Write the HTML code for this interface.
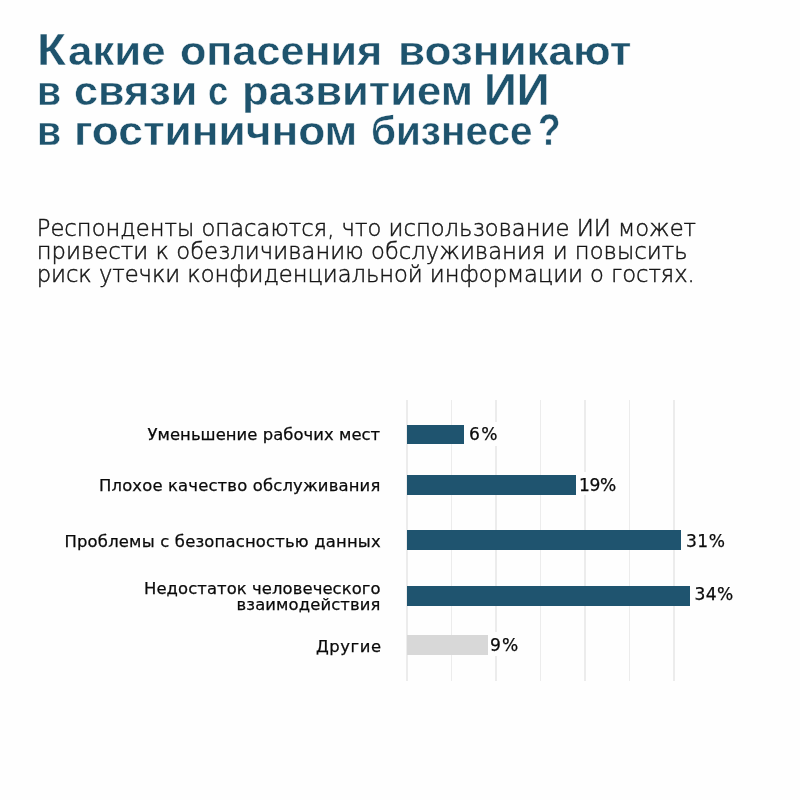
<!DOCTYPE html>
<html lang="ru">
<head>
<meta charset="utf-8">
<title>Какие опасения возникают в связи с развитием ИИ в гостиничном бизнесе?</title>
<style>
  html, body { margin: 0; padding: 0; }
  body { width: 800px; height: 800px; background: #fefefe; position: relative; overflow: hidden;
         font-family: "Liberation Sans", "DejaVu Sans", sans-serif; color: #151515; }
  span { position: absolute; white-space: nowrap; line-height: 1; transform-origin: 0 50%; }
  .t { font-family: "Liberation Sans", sans-serif; font-weight: bold; font-size: 40px; color: #1e536d; -webkit-text-stroke: 0.4px #fefefe; }
  .tc { font-family: "Liberation Sans", sans-serif; font-weight: bold; font-size: 44.3px; color: #1e536d; -webkit-text-stroke: 0.4px #fefefe; }
  .p { font-family: "DejaVu Sans Light", "DejaVu Sans", "Liberation Sans", sans-serif; font-weight: 200; font-size: 22.68px; color: #161616; -webkit-text-stroke: 0.45px #161616; }
  .l { font-family: "DejaVu Sans", "Liberation Sans", sans-serif; font-size: 16.4px; color: #0a0a0a; -webkit-text-stroke: 0.25px #0a0a0a; }
  .v { font-family: "DejaVu Sans", "Liberation Sans", sans-serif; font-size: 17.1px; color: #0a0a0a; -webkit-text-stroke: 0.25px #0a0a0a; }
  .grid { position: absolute; top: 400px; height: 280.6px; width: 1.5px; background: #ececec; }
  .bar { position: absolute; left: 406.8px; background: #1f546f; }
  .bar.grey { background: #d8d8d8; }
  .box { position: absolute; background: #fefefe; }
</style>
</head>
<body>
<h1 style="margin:0;font-size:inherit;font-weight:inherit">
<span class="tc" style="left:37.26px;top:27.80px;transform:scaleX(1.0692);">К</span><span class="t" style="left:67.70px;top:30.80px;transform:scaleX(1.0955);">акие</span>
<span class="t" style="left:179.97px;top:30.80px;transform:scaleX(1.0791);">опасения</span>
<span class="t" style="left:397.60px;top:30.80px;transform:scaleX(1.1022);">возникают</span>
<span class="t" style="left:37.24px;top:71.20px;transform:scaleX(0.9818);">в</span>
<span class="t" style="left:73.72px;top:71.00px;transform:scaleX(1.0793);">связи</span>
<span class="t" style="left:208.09px;top:71.00px;transform:scaleX(0.9095);">с</span>
<span class="t" style="left:242.12px;top:71.00px;transform:scaleX(1.0906);">развитием</span>
<span class="tc" style="left:483.74px;top:67.60px;transform:scaleX(1.0308);">ИИ</span>
<span class="t" style="left:37.24px;top:111.40px;transform:scaleX(0.9818);">в</span>
<span class="t" style="left:73.99px;top:111.40px;transform:scaleX(1.1063);">гостиничном</span>
<span class="t" style="left:371.29px;top:111.40px;transform:scaleX(1.0117);">бизнесе</span><span class="tc" style="left:537.63px;top:108.20px;transform:scaleX(0.8326);">?</span>
</h1>
<p style="margin:0">
<span class="p" style="left:36.75px;top:216.50px;letter-spacing:-0.000px;">Респонденты опасаются, что использование ИИ может</span>
<span class="p" style="left:36.75px;top:239.60px;letter-spacing:0.035px;">привести к обезличиванию обслуживания и повысить</span>
<span class="p" style="left:36.75px;top:262.80px;letter-spacing:-0.058px;">риск утечки конфиденциальной информации о гостях.</span>
</p>
<div class="grid" style="left:406.20px"></div>
<div class="grid" style="left:450.67px"></div>
<div class="grid" style="left:495.14px"></div>
<div class="grid" style="left:539.61px"></div>
<div class="grid" style="left:584.08px"></div>
<div class="grid" style="left:628.55px"></div>
<div class="grid" style="left:673.02px"></div>
<div class="bar" style="top:424.6px;height:19.8px;width:57.6px"></div>
<div class="bar" style="top:475.0px;height:19.6px;width:169.3px"></div>
<div class="bar" style="top:530.4px;height:19.5px;width:274.3px"></div>
<div class="bar" style="top:586.1px;height:19.5px;width:283.1px"></div>
<div class="bar grey" style="top:635.0px;height:19.6px;width:81.0px"></div>
<div class="box" style="left:466px;top:421.5px;width:36px;height:24px"></div>
<div class="box" style="left:577px;top:471.8px;width:43px;height:23.5px"></div>
<div class="box" style="left:488.5px;top:632px;width:33px;height:24px"></div>
<span class="v" style="left:469.00px;top:426.20px;letter-spacing:1.424px;">6%</span>
<span class="v" style="left:579.00px;top:476.80px;letter-spacing:-0.376px;">19%</span>
<span class="v" style="left:685.90px;top:532.60px;letter-spacing:0.549px;">31%</span>
<span class="v" style="left:694.60px;top:586.40px;letter-spacing:0.324px;">34%</span>
<span class="v" style="left:489.90px;top:636.60px;letter-spacing:1.224px;">9%</span>
<span class="l" style="left:147.50px;top:426.80px;letter-spacing:0.057px;">Уменьшение рабочих мест</span>
<span class="l" style="left:99.00px;top:477.80px;letter-spacing:0.169px;">Плохое качество обслуживания</span>
<span class="l" style="left:64.50px;top:534.25px;letter-spacing:0.197px;">Проблемы с безопасностью данных</span>
<span class="l" style="left:144.00px;top:581.00px;letter-spacing:0.092px;">Недостаток человеческого</span>
<span class="l" style="left:236.50px;top:596.90px;letter-spacing:0.130px;">взаимодействия</span>
<span class="l" style="left:316.00px;top:638.60px;letter-spacing:0.565px;">Другие</span>
</body>
</html>
